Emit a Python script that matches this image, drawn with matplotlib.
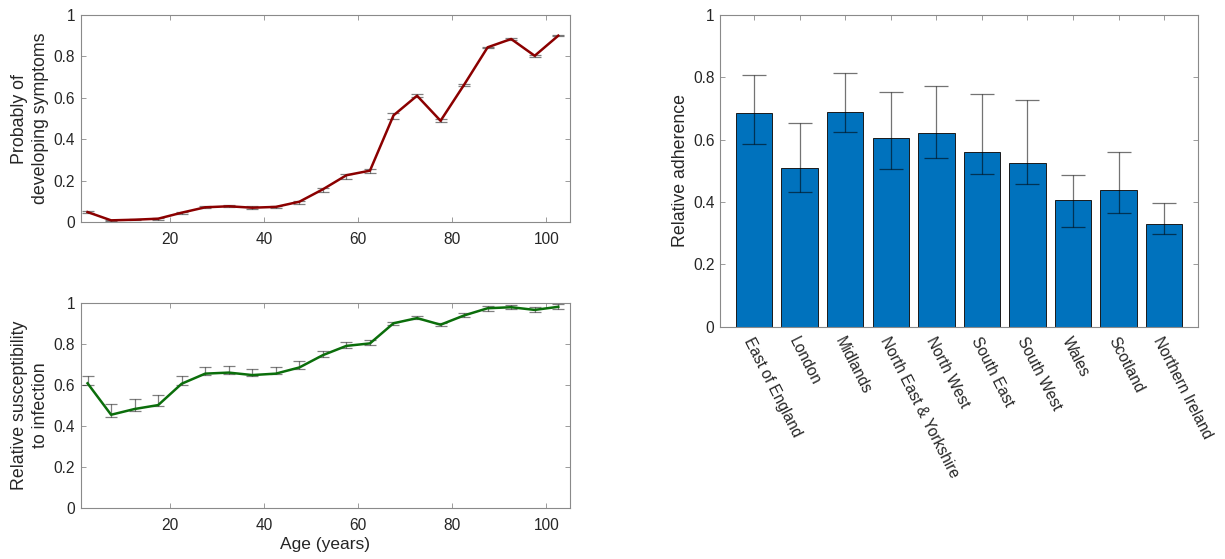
import matplotlib
matplotlib.use("Agg")
import matplotlib.pyplot as plt
import numpy as np

plt.rcParams['font.family'] = ['Liberation Sans', 'DejaVu Sans']
plt.rcParams['font.size'] = 11

# ---------------- data ----------------
ages = [2.5, 7.5, 12.5, 17.5, 22.5, 27.5, 32.5, 37.5, 42.5, 47.5, 52.5,
        57.5, 62.5, 67.5, 72.5, 77.5, 82.5, 87.5, 92.5, 97.5, 102.5]

symp = [0.048, 0.008, 0.011, 0.016, 0.045, 0.071, 0.076, 0.069, 0.073, 0.098, 0.158,
        0.226, 0.248, 0.515, 0.610, 0.489, 0.663, 0.844, 0.884, 0.803, 0.900]
symp_lo = [0.044, 0.005, 0.008, 0.012, 0.040, 0.066, 0.071, 0.063, 0.068, 0.086, 0.143,
           0.210, 0.236, 0.497, 0.603, 0.481, 0.659, 0.841, 0.881, 0.799, 0.897]
symp_hi = [0.052, 0.011, 0.014, 0.020, 0.050, 0.077, 0.081, 0.075, 0.078, 0.103, 0.164,
           0.232, 0.258, 0.525, 0.616, 0.497, 0.667, 0.847, 0.887, 0.806, 0.903]

susc = [0.608, 0.455, 0.483, 0.502, 0.606, 0.655, 0.660, 0.648, 0.655, 0.685, 0.745,
        0.790, 0.802, 0.900, 0.925, 0.893, 0.938, 0.973, 0.978, 0.965, 0.980]
susc_lo = [0.600, 0.446, 0.475, 0.497, 0.598, 0.647, 0.655, 0.643, 0.651, 0.676, 0.734,
           0.780, 0.793, 0.891, 0.919, 0.885, 0.930, 0.961, 0.968, 0.953, 0.968]
susc_hi = [0.645, 0.506, 0.533, 0.549, 0.645, 0.686, 0.692, 0.679, 0.689, 0.715, 0.767,
           0.807, 0.818, 0.908, 0.935, 0.903, 0.948, 0.984, 0.990, 0.977, 0.993]

regions = ['East of England', 'London', 'Midlands', 'North East & Yorkshire',
           'North West', 'South East', 'South West', 'Wales', 'Scotland',
           'Northern Ireland']
adherence = [0.684, 0.510, 0.690, 0.604, 0.621, 0.559, 0.525, 0.407, 0.439, 0.329]
adh_lo = [0.585, 0.431, 0.624, 0.505, 0.540, 0.489, 0.457, 0.319, 0.364, 0.299]
adh_hi = [0.809, 0.652, 0.815, 0.752, 0.771, 0.745, 0.726, 0.486, 0.561, 0.397]

yticks = [0, 0.2, 0.4, 0.6, 0.8, 1]
yticklabels = ['0', '0.2', '0.4', '0.6', '0.8', '1']
ageticks = [20, 40, 60, 80, 100]

# ---------------- figure ----------------
W, H = 1225, 559
fig = plt.figure(figsize=(W / 100, H / 100), dpi=100)

spine_col = '#8a8a8a'
text_col = '#262626'
TICK_FS = 11.2
LABEL_FS = 12.8


def style(ax):
    for s in ax.spines.values():
        s.set_color(spine_col)
        s.set_linewidth(0.8)
    ax.tick_params(direction='in', length=3.5, width=0.6, color=spine_col,
                   labelcolor=text_col, labelsize=TICK_FS, top=True, right=True, pad=4)


def line_panel(ax, y, lo, hi, color, ylabel):
    x = np.array(ages)
    y = np.array(y)
    yerr = [y - np.array(lo), np.array(hi) - y]
    ax.errorbar(x, y, yerr=yerr, fmt='none', ecolor='black', alpha=0.5,
                elinewidth=0.9, capsize=4.3, capthick=0.9, zorder=2)
    ax.plot(x, y, color=color, lw=1.8, zorder=3)
    ax.set_xlim(1, 105)
    ax.set_ylim(0, 1)
    ax.set_xticks(ageticks)
    ax.set_yticks(yticks)
    ax.set_yticklabels(yticklabels)
    ax.set_ylabel(ylabel, fontsize=LABEL_FS, color=text_col, linespacing=1.35, labelpad=3)
    style(ax)
    ax.tick_params(axis='x', pad=7)


ax1 = fig.add_axes([80.5 / W, 1 - 222 / H, 489.5 / W, 207 / H])
line_panel(ax1, symp, symp_lo, symp_hi, '#8b0000', 'Probably of\ndeveloping symptoms')

ax2 = fig.add_axes([80.5 / W, 1 - 508.3 / H, 489.5 / W, 205.6 / H])
line_panel(ax2, susc, susc_lo, susc_hi, '#0b6e0b', 'Relative susceptibility\nto infection')
ax2.set_xlabel('Age (years)', fontsize=12.5, color=text_col, labelpad=3)

ax3 = fig.add_axes([720 / W, 1 - 326.7 / H, 478.3 / W, 311.7 / H])
xb = np.arange(1, len(regions) + 1)
adh = np.array(adherence)
ax3.bar(xb, adh, width=0.8, color='#0072BD', edgecolor='#1a1a1a', linewidth=0.7, zorder=2)
ax3.errorbar(xb, adh, yerr=[adh - np.array(adh_lo), np.array(adh_hi) - adh], fmt='none',
             ecolor='black', alpha=0.55, elinewidth=0.9, capsize=8.3, capthick=0.9, zorder=3)
ax3.set_xlim(0.25, 10.75)
ax3.set_ylim(0, 1)
ax3.set_yticks(yticks)
ax3.set_yticklabels(yticklabels)
ax3.set_xticks(xb)
style(ax3)
ax3.set_xticklabels(regions, rotation=-63, ha='left', va='top', rotation_mode='anchor',
                    fontsize=TICK_FS)
ax3.tick_params(axis='x', pad=6)
ax3.set_ylabel('Relative adherence', fontsize=LABEL_FS, color=text_col, labelpad=3)

fig.savefig('out.png', dpi=100)
